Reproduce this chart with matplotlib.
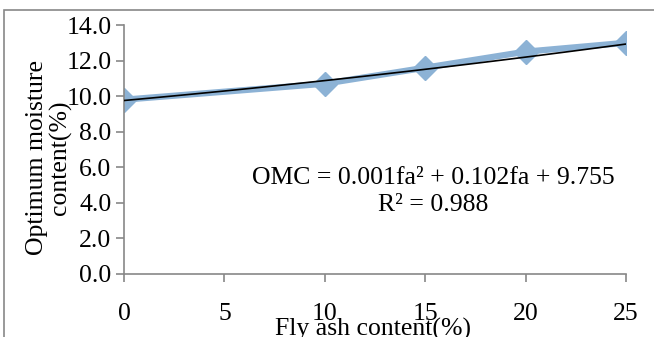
import matplotlib
matplotlib.use("Agg")
import matplotlib.pyplot as plt
import numpy as np
from matplotlib.patches import Rectangle

# fly ash content (%) vs optimum moisture content (%)
fly_ash = [0, 10, 15, 20, 25]
omc = [9.8, 10.7, 11.6, 12.5, 13.0]

# 2nd order trendline coefficients
coef = [0.001, 0.102, 9.755]
r_squared = 0.988

x_ticks = [0, 5, 10, 15, 20, 25]
y_ticks = [0, 2, 4, 6, 8, 10, 12, 14]

plt.rcParams['font.family'] = ['Liberation Serif', 'DejaVu Serif']
fs = 18.5

W, H = 654, 337
fig = plt.figure(figsize=(W / 100, H / 100), dpi=100)
ax = fig.add_axes([124 / W, 1 - 274 / H, (626 - 124) / W, (274 - 25) / H])

ax.plot(fly_ash, omc, color='#8cb2d5', lw=4.5, marker='D', ms=12,
        markerfacecolor='#8cb2d5', markeredgecolor='#8cb2d5', zorder=2)

xs = np.linspace(0, 25, 100)
ax.plot(xs, np.polyval(coef, xs), color='black', lw=1.2, zorder=3)

ax.set_xlim(0, 25)
ax.set_ylim(0, 14)
ax.set_xticks(x_ticks)
ax.set_yticks(y_ticks)
ax.set_yticklabels([f'{v:.1f}' for v in y_ticks])

for s in ['top', 'right']:
    ax.spines[s].set_visible(False)
for s in ['left', 'bottom']:
    ax.spines[s].set_color('#888888')
    ax.spines[s].set_linewidth(1.2)
ax.tick_params(axis='both', colors='#888888', length=6, width=1.2, labelsize=fs,
               labelcolor='black')
ax.tick_params(axis='x', pad=15)
ax.tick_params(axis='y', pad=3)

ax.set_xlabel('Fly ash content(%)', fontsize=fs)
ax.xaxis.set_label_coords(0.497, -0.175)
ax.set_ylabel('Optimum moisture\ncontent(%)', fontsize=fs, linespacing=1.05)
ax.yaxis.set_label_coords(-0.103, 0.466)

ax.text(0.616, 0.33,
        f'OMC = {coef[0]:.3f}fa² + {coef[1]:.3f}fa + {coef[2]:.3f}\nR² = {r_squared:.3f}',
        transform=ax.transAxes, ha='center', va='center', fontsize=fs,
        linespacing=1.3)

# outer chart border
fig.patches.append(Rectangle((4 / W, -0.1), 1.2, 1.1 - 10 / H, transform=fig.transFigure,
                             fill=False, edgecolor='#888888', lw=1.2))

fig.savefig('out.png', dpi=100)
